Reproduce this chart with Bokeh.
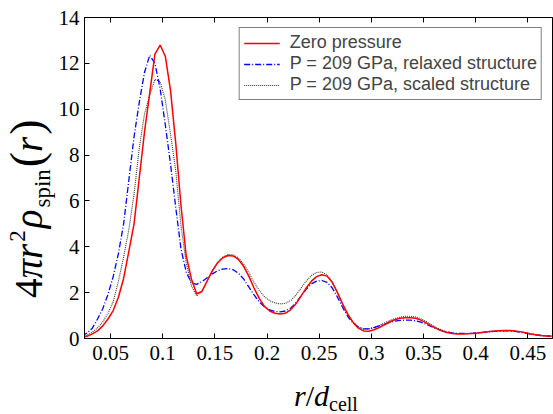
from bokeh.plotting import figure
from bokeh.layouts import row, column
from bokeh.models import (ColumnDataSource, Legend, LegendItem, LinearAxis, Div,
                          FixedTicker, Range1d, CustomLabelingPolicy)
from bokeh.embed import file_html
from bokeh.resources import INLINE

# ---------------- data ----------------
r_over_d = [0.0225, 0.0275, 0.0325, 0.0375, 0.0425, 0.0475, 0.0525, 0.0575, 0.0625, 0.0675,
            0.0725, 0.0775, 0.0825, 0.0875, 0.0925, 0.0975, 0.1025, 0.1075, 0.1125, 0.1175,
            0.1225, 0.1275, 0.1325, 0.1375, 0.1425, 0.1475, 0.1525, 0.1575, 0.1625, 0.1675,
            0.1725, 0.1775, 0.1825, 0.1875, 0.1925, 0.1975, 0.2025, 0.2075, 0.2125, 0.2175,
            0.2225, 0.2275, 0.2325, 0.2375, 0.2425, 0.2475, 0.2525, 0.2575, 0.2625, 0.2675,
            0.2725, 0.2775, 0.2825, 0.2875, 0.2925, 0.2975, 0.3025, 0.3075, 0.3125, 0.3175,
            0.3225, 0.3275, 0.3325, 0.3375, 0.3425, 0.3475, 0.3525, 0.3575, 0.3625, 0.3675,
            0.3725, 0.3775, 0.3825, 0.3875, 0.3925, 0.3975, 0.4025, 0.4075, 0.4125, 0.4175,
            0.4225, 0.4275, 0.4325, 0.4375, 0.4425, 0.4475, 0.4525, 0.4575, 0.4625, 0.4675,
            0.4725]

zero_pressure = [0.04, 0.10, 0.20, 0.33, 0.55, 0.85, 1.22, 1.80, 2.62, 3.80,
                 5.00, 7.00, 9.00, 10.70, 12.40, 12.80, 12.30, 10.80, 8.50, 5.80,
                 3.60, 2.60, 1.95, 2.05, 2.50, 2.95, 3.30, 3.52, 3.62, 3.60,
                 3.45, 3.15, 2.72, 2.20, 1.75, 1.40, 1.20, 1.10, 1.07, 1.10,
                 1.25, 1.50, 1.85, 2.20, 2.50, 2.70, 2.78, 2.72, 2.45, 2.00,
                 1.50, 1.05, 0.70, 0.45, 0.33, 0.32, 0.38, 0.48, 0.60, 0.72,
                 0.82, 0.88, 0.91, 0.91, 0.88, 0.80, 0.68, 0.55, 0.43, 0.33,
                 0.26, 0.22, 0.20, 0.20, 0.21, 0.22, 0.24, 0.27, 0.30, 0.32,
                 0.34, 0.35, 0.35, 0.33, 0.30, 0.25, 0.20, 0.16, 0.13, 0.11,
                 0.10]

relaxed_209 = [0.10, 0.24, 0.45, 0.85, 1.30, 1.92, 2.70, 3.70, 5.00, 6.90,
               8.80, 10.30, 11.60, 12.35, 12.00, 10.90, 9.30, 7.60, 5.70, 3.90,
               2.90, 2.42, 2.36, 2.48, 2.65, 2.82, 2.95, 3.03, 3.05, 3.00,
               2.85, 2.60, 2.25, 1.90, 1.60, 1.38, 1.25, 1.18, 1.16, 1.20,
               1.32, 1.55, 1.85, 2.15, 2.38, 2.50, 2.53, 2.45, 2.20, 1.80,
               1.35, 0.95, 0.68, 0.50, 0.42, 0.42, 0.47, 0.55, 0.63, 0.70,
               0.76, 0.79, 0.80, 0.80, 0.77, 0.71, 0.62, 0.52, 0.42, 0.34,
               0.28, 0.24, 0.22, 0.22, 0.22, 0.23, 0.25, 0.27, 0.29, 0.31,
               0.32, 0.33, 0.33, 0.31, 0.28, 0.24, 0.20, 0.16, 0.13, 0.11,
               0.10]

scaled_209 = [0.06, 0.15, 0.28, 0.46, 0.72, 1.10, 1.60, 2.50, 3.55, 4.75,
              6.30, 8.30, 9.80, 10.60, 11.30, 11.20, 10.40, 8.90, 7.30, 4.90,
              3.30, 2.30, 1.86, 2.05, 2.50, 2.95, 3.30, 3.55, 3.66, 3.65,
              3.52, 3.25, 2.88, 2.45, 2.10, 1.82, 1.65, 1.55, 1.51, 1.53,
              1.65, 1.88, 2.20, 2.50, 2.75, 2.88, 2.90, 2.78, 2.45, 1.98,
              1.48, 1.03, 0.70, 0.50, 0.42, 0.42, 0.48, 0.57, 0.68, 0.78,
              0.87, 0.93, 0.97, 0.97, 0.94, 0.86, 0.74, 0.60, 0.47, 0.37,
              0.29, 0.24, 0.22, 0.21, 0.22, 0.23, 0.25, 0.27, 0.30, 0.32,
              0.33, 0.34, 0.34, 0.32, 0.29, 0.25, 0.21, 0.17, 0.14, 0.12,
              0.10]

x_ticks = [0.05, 0.1, 0.15, 0.2, 0.25, 0.3, 0.35, 0.4, 0.45]
x_tick_labels = ["0.05", "0.1", "0.15", "0.2", "0.25", "0.3", "0.35", "0.4", "0.45"]
y_ticks = [0, 2, 4, 6, 8, 10, 12, 14]
y_tick_labels = ["0", "2", "4", "6", "8", "10", "12", "14"]

series_labels = ["Zero pressure",
                 "P = 209 GPa, relaxed structure",
                 "P = 209 GPa, scaled structure"]

# ---------------- geometry (page px) ----------------
TOTAL_W, TOTAL_H = 553, 414
YT_W = 55                  # width of the y-title strip
XT_H = 34                  # height of the x-title strip
FL, FT, FB = 83, 11, 338   # frame left / top / bottom in page px

PW, PH = TOTAL_W - YT_W, TOTAL_H - XT_H
p = figure(width=PW, height=PH, output_backend="svg", toolbar_location=None,
           x_range=Range1d(0.025, 0.4736), y_range=Range1d(0, 14),
           min_border_left=FL - YT_W, min_border_right=1, min_border_top=FT,
           min_border_bottom=PH - FB,
           background_fill_color="white", border_fill_color="white")
p.xgrid.visible = False
p.ygrid.visible = False
p.outline_line_color = "black"
p.outline_line_width = 1

serif = "Liberation Serif"

def style_axis(ax, ticks, labels, standoff):
    ax.ticker = FixedTicker(ticks=ticks)
    ax.major_label_overrides = {t: l for t, l in zip(ticks, labels)}
    ax.major_tick_in = 5
    ax.major_tick_out = 0
    ax.minor_tick_in = 0
    ax.minor_tick_out = 0
    ax.axis_line_color = "black"
    ax.major_tick_line_color = "black"
    ax.major_label_text_font = serif
    ax.major_label_text_color = "black"
    ax.major_label_text_font_size = "21px"
    ax.major_label_standoff = standoff

style_axis(p.xaxis[0], x_ticks, x_tick_labels, 7)
style_axis(p.yaxis[0], y_ticks, y_tick_labels, 5)

top_ax = LinearAxis()
style_axis(top_ax, x_ticks, x_tick_labels, 0)
top_ax.major_label_policy = CustomLabelingPolicy(
    code="for (const i of indices) indices.unset(i); return indices")
p.add_layout(top_ax, "above")

src = ColumnDataSource(dict(x=r_over_d, zero=zero_pressure, rel=relaxed_209, sc=scaled_209))
r_sc = p.line("x", "sc", source=src, line_color="#333333", line_width=1.1, line_dash="1 1")
r_rel = p.line("x", "rel", source=src, line_color="#0000ff", line_width=1.3, line_dash="6 2 1 2")
r_zero = p.line("x", "zero", source=src, line_color="#ff0000", line_width=1.5)

legend = Legend(items=[LegendItem(label=series_labels[0], renderers=[r_zero]),
                       LegendItem(label=series_labels[1], renderers=[r_rel]),
                       LegendItem(label=series_labels[2], renderers=[r_sc])],
                location="top_right", margin=10, padding=4, spacing=0,
                glyph_width=36, glyph_height=18, label_height=18, label_standoff=10,
                label_text_font="Liberation Sans", label_text_font_size="18px",
                border_line_color="black", border_line_width=1,
                background_fill_alpha=1.0)
p.add_layout(legend, "center")

# ---------------- axis titles as real HTML text ----------------
font_css = "font-family:'Liberation Serif','Times New Roman',serif;color:black;white-space:nowrap;"

x_title_html = (
    f"<div style=\"{font_css}font-size:30px;line-height:30px;"
    f"padding-left:{294 - YT_W}px;padding-top:1px;\">"
    "<i>r</i>/<i>d</i>"
    "<span style=\"font-size:20px;position:relative;top:5px;\">cell</span></div>"
)
y_title_html = (
    f"<div style=\"{font_css}font-size:39px;line-height:39px;width:max-content;"
    "transform-origin:0 0;transform:translate(7px,298px) rotate(-90deg);\">"
    "<span style=\"font-style:normal;\">4</span><i>&pi;r</i>"
    "<span style=\"font-size:23px;position:relative;top:-17px;padding-left:2px;\">2</span>"
    "<i style=\"padding-left:2px;\">&rho;</i>"
    "<span style=\"font-size:23px;position:relative;top:8px;padding-left:2px;\">spin</span>"
    "<span style=\"font-size:46px;padding-left:2px;\">(</span><i>r</i>"
    "<span style=\"font-size:46px;padding-left:2px;\">)</span>"
    "</div>"
)

x_title = Div(text=x_title_html, width=PW, height=XT_H, margin=0,
              styles={"overflow": "visible"})
y_title = Div(text=y_title_html, width=YT_W, height=TOTAL_H, margin=0,
              styles={"overflow": "visible"})

layout = row(y_title, column(p, x_title, spacing=0), spacing=0)

open("out.html", "w").write(file_html(layout, INLINE))
